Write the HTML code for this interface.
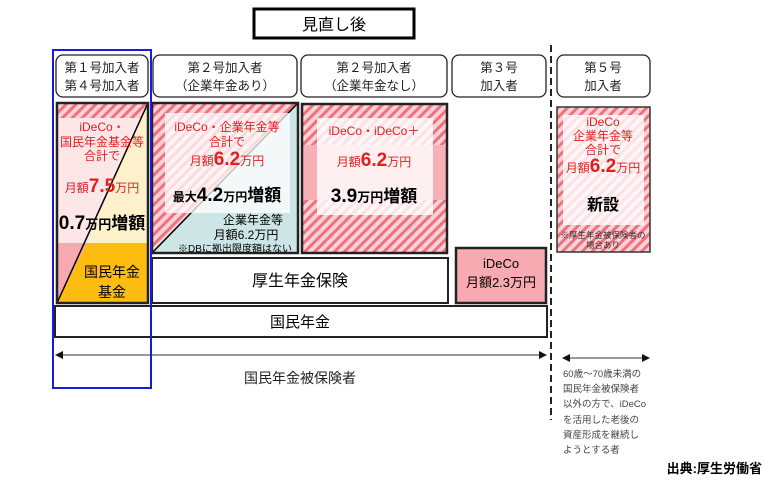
<!DOCTYPE html>
<html><head><meta charset="utf-8"><style>
html,body{margin:0;padding:0;background:#fff;}
svg text{font-family:"Liberation Sans","Noto Sans CJK JP",sans-serif;}
</style></head><body>
<svg width="766" height="483" viewBox="0 0 766 483" xmlns="http://www.w3.org/2000/svg">
<defs>
<pattern id="h" patternUnits="userSpaceOnUse" width="7" height="7" patternTransform="rotate(45)">
<rect width="7" height="7" fill="#fbd3d7"/><rect width="3" height="7" fill="#f0707e"/>
</pattern>
</defs>
<rect x="254" y="9" width="160" height="29" fill="#fff" stroke="#000" stroke-width="3"/>
<text x="334" y="30" font-size="16" text-anchor="middle">見直し後</text>
<g fill="#fff" stroke="#222" stroke-width="1.3">
<rect x="56" y="55" width="92" height="42" rx="7"/>
<rect x="153" y="55" width="144" height="42" rx="7"/>
<rect x="301" y="55" width="146" height="42" rx="7"/>
<rect x="452" y="55" width="94" height="42" rx="7"/>
<rect x="557" y="55" width="93" height="42" rx="7"/>
</g>
<g font-size="12.5" text-anchor="middle" fill="#222">
<text x="102" y="72">第１号加入者</text><text x="102" y="90">第４号加入者</text>
<text x="225" y="72">第２号加入者</text><text x="225" y="90">（企業年金あり）</text>
<text x="374" y="72">第２号加入者</text><text x="374" y="90">（企業年金なし）</text>
<text x="499" y="72">第３号</text><text x="499" y="90">加入者</text>
<text x="603" y="72">第５号</text><text x="603" y="90">加入者</text>
</g>
<rect x="57" y="103" width="91" height="200" fill="url(#h)"/>
<polygon points="57,118 148,118 148,243 57,243" fill="#fde6e8"/>
<polygon points="148,103 148,243 87,243" fill="#fdf1cc"/>
<polygon points="57,243 148,243 148,303 57,303" fill="#f8a8b0"/>
<polygon points="87,243 148,243 148,303 57,303" fill="#fcbc10"/>
<line x1="57" y1="303" x2="148" y2="103" stroke="#000" stroke-width="1.5"/>
<rect x="57" y="103" width="91" height="200" fill="none" stroke="#222" stroke-width="2.5"/>
<g text-anchor="middle" fill="#e02020" font-size="12">
<text x="102" y="131">iDeCo・</text><text x="102" y="146">国民年金基金等</text><text x="102" y="160">合計で</text>
<text x="102" y="192">月額<tspan font-size="19" font-weight="bold">7.5</tspan>万円</text>
</g>
<text x="102" y="229" text-anchor="middle" font-size="13" font-weight="bold"><tspan font-size="19">0.7</tspan>万円<tspan font-size="17">増額</tspan></text>
<text x="112" y="277" text-anchor="middle" font-size="14">国民年金</text>
<text x="112" y="297" text-anchor="middle" font-size="14">基金</text>
<rect x="152" y="103" width="146" height="150" fill="url(#h)"/>
<polygon points="298,103 298,253 152,253" fill="#cde5e5"/>
<line x1="152" y1="253" x2="298" y2="103" stroke="#000" stroke-width="1.5"/>
<rect x="165" y="113" width="125" height="100" fill="#fff" fill-opacity="0.75"/>
<rect x="152" y="103" width="146" height="150" fill="none" stroke="#222" stroke-width="2.5"/>
<g text-anchor="middle" fill="#e02020" font-size="12">
<text x="227" y="131">iDeCo・企業年金等</text><text x="227" y="146">合計で</text>
<text x="227" y="165">月額<tspan font-size="19" font-weight="bold">6.2</tspan>万円</text>
</g>
<text x="227" y="201" text-anchor="middle" font-size="12" font-weight="bold">最大<tspan font-size="19">4.2</tspan>万円<tspan font-size="17">増額</tspan></text>
<text x="253" y="224" text-anchor="middle" font-size="12">企業年金等</text>
<text x="246" y="239" text-anchor="middle" font-size="12">月額6.2万円</text>
<text x="235" y="252" text-anchor="middle" font-size="10">※DBに拠出限度額はない</text>
<rect x="302" y="104" width="145" height="149" fill="url(#h)"/>
<rect x="302" y="145" width="145" height="55" fill="#f8b0b6"/>
<rect x="317" y="118" width="116" height="97" fill="#fff" fill-opacity="0.8"/>
<rect x="302" y="104" width="145" height="149" fill="none" stroke="#222" stroke-width="2.5"/>
<g text-anchor="middle" fill="#e02020" font-size="12">
<text x="374" y="135">iDeCo・iDeCo＋</text>
<text x="374" y="166">月額<tspan font-size="19" font-weight="bold">6.2</tspan>万円</text>
</g>
<text x="374" y="202" text-anchor="middle" font-size="13" font-weight="bold"><tspan font-size="19">3.9</tspan>万円<tspan font-size="17">増額</tspan></text>
<rect x="557" y="107" width="93" height="145" fill="url(#h)"/>
<rect x="563" y="115" width="81" height="110" fill="#fff" fill-opacity="0.8"/>
<rect x="557" y="107" width="93" height="145" fill="none" stroke="#333" stroke-width="1.5"/>
<g text-anchor="middle" fill="#e02020" font-size="12">
<text x="603" y="126">iDeCo</text><text x="603" y="140">企業年金等</text><text x="603" y="154">合計で</text>
<text x="603" y="172">月額<tspan font-size="19" font-weight="bold">6.2</tspan>万円</text>
</g>
<text x="603" y="210" text-anchor="middle" font-size="16" font-weight="bold">新設</text>
<text x="603" y="238" text-anchor="middle" font-size="8.5" fill="#333">※厚生年金被保険者の</text>
<text x="603" y="248" text-anchor="middle" font-size="8.5" fill="#333">場合あり</text>
<rect x="152" y="258" width="296" height="45" fill="#fff" stroke="#222" stroke-width="2"/>
<text x="300" y="286" text-anchor="middle" font-size="16">厚生年金保険</text>
<rect x="456" y="248" width="90" height="55" fill="#f8aab2" stroke="#222" stroke-width="2.5"/>
<text x="501" y="268" text-anchor="middle" font-size="13">iDeCo</text>
<text x="501" y="287" text-anchor="middle" font-size="13">月額2.3万円</text>
<rect x="55" y="306" width="492" height="31" fill="#fff" stroke="#222" stroke-width="2"/>
<text x="300" y="327" text-anchor="middle" font-size="15">国民年金</text>
<line x1="551" y1="45" x2="551" y2="420" stroke="#222" stroke-width="2" stroke-dasharray="7,4"/>
<line x1="62" y1="355" x2="540" y2="355" stroke="#333" stroke-width="1"/>
<polygon points="55,355 63,351 63,359" fill="#111"/>
<polygon points="547,355 539,351 539,359" fill="#111"/>
<text x="300" y="383" text-anchor="middle" font-size="14" fill="#222">国民年金被保険者</text>
<line x1="568" y1="358" x2="644" y2="358" stroke="#333" stroke-width="1"/>
<polygon points="562,358 570,354 570,362" fill="#111"/>
<polygon points="650,358 642,354 642,362" fill="#111"/>
<g font-size="9.5" fill="#444">
<text x="563" y="377">60歳～70歳未満の</text>
<text x="563" y="392">国民年金被保険者</text>
<text x="563" y="407">以外の方で、iDeCo</text>
<text x="563" y="423">を活用した老後の</text>
<text x="563" y="438">資産形成を継続し</text>
<text x="563" y="453">ようとする者</text>
</g>
<text x="762" y="473" text-anchor="end" font-size="13" font-weight="bold">出典:厚生労働省</text>
<rect x="53" y="50" width="98" height="338" fill="none" stroke="#1a1adc" stroke-width="2"/>
</svg>
</body></html>
